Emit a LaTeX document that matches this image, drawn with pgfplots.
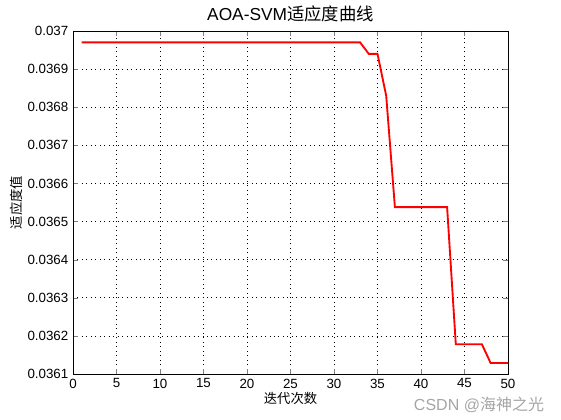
\documentclass[border=0pt]{standalone}
\usepackage{pgfplots}
\pgfplotsset{compat=1.18}
\usepackage{fontspec}
\setmainfont{Liberation Sans}
\newfontfamily\cjk{Noto Sans CJK SC}
\definecolor{wm}{RGB}{165,165,165}
\begin{document}
\begin{tikzpicture}
\path (0pt,0pt) rectangle (420.75pt,315pt);
\begin{axis}[
  at={(54.75pt,34.5pt)}, anchor=south west,
  scale only axis, width=326.25pt, height=257.25pt,
  xmin=0, xmax=50, ymin=0.0361, ymax=0.037,
  xtick={0,5,...,50},
  ytick={0.0361,0.0362,0.0363,0.0364,0.0365,0.0366,0.0367,0.0368,0.0369,0.037},
  scaled y ticks=false,
  yticklabel style={/pgf/number format/fixed,/pgf/number format/precision=4},
  /pgf/number format/assume math mode=true,
  tick label style={font=\fontsize{10}{12}\selectfont},
  tick align=inside, tick pos=both,
  major tick length=3.5pt,
  grid=major, major grid style={black, line width=0.5pt, dash pattern=on 0.75pt off 2.6pt},
  axis line style={black, line width=0.5pt},
  title={AOA-SVM{\cjk 适应度曲线}},
  title style={font=\fontsize{13}{15}\selectfont, yshift=-3pt},
  xlabel={\cjk 迭代次数},
  ylabel={\cjk 适应度值},
  label style={font=\fontsize{10}{12}\selectfont},
  xlabel style={yshift=4pt},
  ylabel style={yshift=-3pt},
]
\addplot[red, line width=1.4pt] coordinates {
(1,0.03697) (2,0.03697) (3,0.03697) (4,0.03697) (5,0.03697) (6,0.03697) (7,0.03697) (8,0.03697) (9,0.03697) (10,0.03697)
(11,0.03697) (12,0.03697) (13,0.03697) (14,0.03697) (15,0.03697) (16,0.03697) (17,0.03697) (18,0.03697) (19,0.03697) (20,0.03697)
(21,0.03697) (22,0.03697) (23,0.03697) (24,0.03697) (25,0.03697) (26,0.03697) (27,0.03697) (28,0.03697) (29,0.03697) (30,0.03697)
(31,0.03697) (32,0.03697) (33,0.03697) (34,0.03694) (35,0.03694) (36,0.03683) (37,0.036538) (38,0.036538) (39,0.036538) (40,0.036538)
(41,0.036538) (42,0.036538) (43,0.036538) (44,0.036178) (45,0.036178) (46,0.036178) (47,0.036178) (48,0.036129) (49,0.036129) (50,0.036129)
};
\end{axis}
\node[wm, font=\fontsize{12}{14}\selectfont] at (359.25pt,11.25pt) {CSDN @{\cjk 海神之光}};
\end{tikzpicture}
\end{document}
